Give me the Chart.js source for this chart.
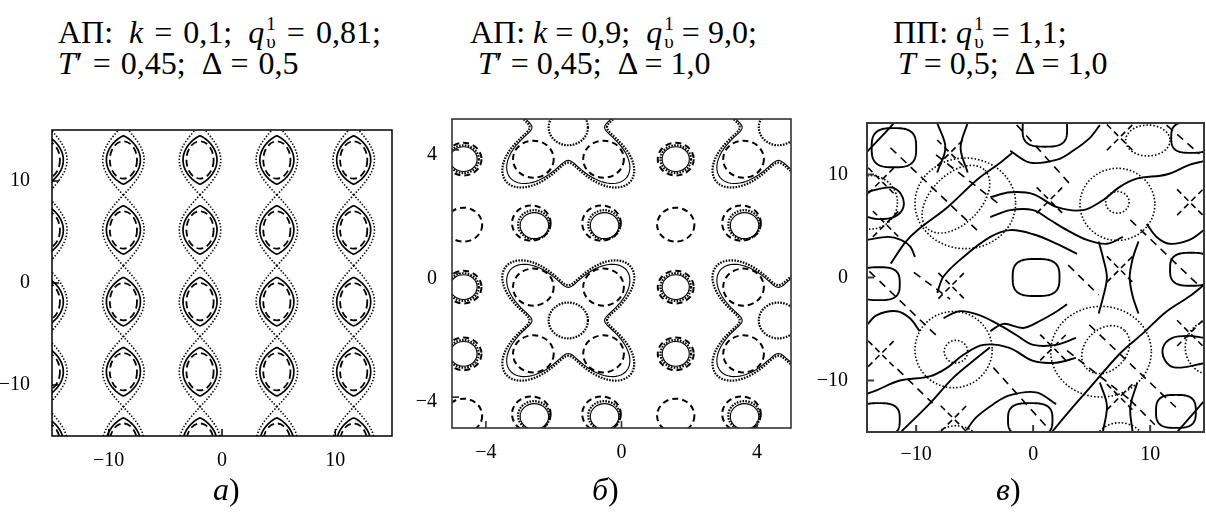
<!DOCTYPE html>
<html>
<head>
<meta charset="utf-8">
<script src="https://cdn.jsdelivr.net/npm/chart.js@4.4.0/dist/chart.umd.min.js"></script>
<style>
  body { margin: 0; background: #fff; width: 1206px; height: 515px; overflow: hidden; position: relative;
         font-family: "Liberation Serif", Tinos, "Times New Roman", "DejaVu Serif", serif; color: #000; }
  .ttl { position: absolute; font-size: 32px; white-space: nowrap; line-height: 1; }
  .ss { display: inline-block; vertical-align: -0.28em; font-size: 0.6em; line-height: 0.95; text-align: center; margin-left: 2px; }
  .ss span { display: block; }
  .cap { position: absolute; font-size: 32px; line-height: 1; top: 473px; }
  canvas { position: absolute; }
</style>
</head>
<body>
<div class="ttl" style="left:58px;top:15px;word-spacing:3px">АП:&ensp;<i>k</i> = 0,1;&ensp;<i>q</i><span class="ss"><span>1</span><span>υ</span></span> = 0,81;</div>
<div class="ttl" style="left:58px;top:47px;word-spacing:2px"><i>T</i>′ = 0,45;&ensp;Δ = 0,5</div>
<div class="ttl" style="left:470px;top:15px">АП: <i>k</i> = 0,9;&ensp;<i>q</i><span class="ss"><span>1</span><span>υ</span></span> = 9,0;</div>
<div class="ttl" style="left:478px;top:47px"><i>T</i>′ = 0,45;&ensp;Δ = 1,0</div>
<div class="ttl" style="left:893px;top:15px">ПП: <i>q</i><span class="ss"><span>1</span><span>υ</span></span> = 1,1;</div>
<div class="ttl" style="left:898px;top:47px"><i>T</i> = 0,5;&ensp;Δ = 1,0</div>

<canvas id="pa" width="400" height="380" style="left:0;top:100px"></canvas>
<canvas id="pb" width="400" height="380" style="left:400px;top:100px"></canvas>
<canvas id="pc" width="406" height="380" style="left:800px;top:100px"></canvas>

<div class="cap" style="left:213px"><i>а</i>)</div>
<div class="cap" style="left:592px"><i>б</i>)</div>
<div class="cap" style="left:996px"><i>в</i>)</div>

<script>
// ---- panel а: chain of cells along y
const aTicks = [-10, 0, 10];
const aCols = [-15.5, -8.7, -1.94, 4.84, 11.62];
const aRows = [19.0, 12.06, 5.2, -1.83, -8.7, -15.6];
const aSolid = [1.5, 2.37];      // half-width, half-height of the solid loop
const aDash = [1.2, 1.83];       // dashed ellipse semi-axes
const aSep = 1.83;               // separatrix half-width

// ---- panel б: lobes, saddles and isolated rings
const bTicks = [-4, 0, 4];
const bLobeX = [-2.6, -0.53, 3.6, 5.66];
const bLobeY = [5.76, 3.7, -0.44, -2.6];
const bNodeX = [-4.66, 1.6];
const bNodeY = [1.58, -4.6];
const bSaddleX = [-1.57, 4.63];
const bSaddleY = [4.73, -1.52];

// ---- panel в
const cTicks = [-10, 0, 10];
// rounded loops: x, y, half-width, half-height
const cBlobs = [
  [0.25, 0, 2.0, 1.8], [1.0, 14.4, 1.9, 1.7], [13.5, 13.6, 1.7, 1.5], [13.5, 0.8, 1.8, 1.6],
  [-0.25, -13.8, 1.9, 1.6], [-13.2, -13.8, 1.8, 1.6], [-13.2, -0.6, 1.8, 1.6],
  [-11.9, 12.6, 1.9, 1.9], [12.2, -13.0, 1.7, 1.6]
];
// dotted rings: x, y, semi-axis a, semi-axis b, tilt (deg)
const cRings = [
  [7.2, 7.3, 1.0, 1.05, 0], [7.2, 7.1, 3.2, 3.5, 0], [-6.6, -7.2, 1.0, 1.1, 0], [-6.8, -7.0, 3.3, 3.7, 0],
  [-6.6, 7.6, 3.5, 2.4, 45], [6.2, -7.0, 2.3, 2.0, 45], [-13.9, 7.3, 2.3, 2.6, 0], [15.4, -6.8, 2.4, 2.7, 0],
  [9.8, 13.3, 1.9, 1.5, 0], [7.4, -16.3, 2.2, 2.2, 0], [-6.6, -16.6, 2.2, 2.2, 0],
  [5.8, -7.2, 4.3, 4.4, 0], [-5.8, 7.2, 4.3, 4.4, 0]
];
// dashed crosses at saddles
const cCrosses = [
  [-13.0, 9.4], [-12.6, 5.2], [1.4, 7.5], [7.4, 13.6], [13.4, 7.3], [-13.0, -7.4], [-6.8, -13.7],
  [7.4, -11.6], [13.4, -5.4], [1.7, -6.8], [-7.1, 12.1], [7.4, 0.8], [-7.0, -0.8]
];
// dashed diagonals
const cDashed = [
  [[-12.2, 12.6], [-4.8, 4.6]], [[-1.4, 14.8], [3.4, 8.75]], [[8.3, 5.6], [14.0, -0.6]],
  [[4.8, -4.6], [12.2, -12.6]], [[-3.4, -8.75], [1.4, -14.8]], [[-14.0, 0.6], [-8.3, -5.6]],
  [[2.9, -7.1], [8.3, -11.9]], [[-8.3, 11.9], [-2.9, 7.1]], [[3.0, 1.2], [5.6, -1.7]],
  [[-11.6, -8.9], [-8.6, -12.2]], [[-10.2, 0.5], [-7.1, -2.1]], [[11.4, 14.8], [14.2, 12.0]],
  [[8.3, -11.9], [10.4, -14.3]]
];
// solid contour pieces
const cSolid = [
  [[-12.17, 1.35], [-10.9, 3.46], [-9.87, 4.62], [-7.32, 6.83], [-4.77, 9.52], [-2.81, 11.15], [-1.79, 12.1]],
  [[1.6, -15], [3.15, -12.9], [4.85, -10.7], [7.4, -7.4], [9.4, -5.4], [11.4, -3.3], [13.4, -1.8], [14.6, -0.7]],
  [[12.3, -15], [14.6, -12.0]],
  [[-14.2, 12.2], [-12.2, 14.6], [-11.9, 15]],
  [[-11.3, -15], [-8.8, -12.2], [-6.8, -9.7], [-4.8, -7.8], [-3.7, -6.8]],
  [[-3.66, 7.8], [-1.96, 8.27], [0, 8.1], [2.04, 6.83], [4.26, 6.54], [5.96, 7.5], [7.4, 8.8], [8.85, 9.6], [11.4, 10.0], [13.4, 10.96], [14.6, 11.3]],
  [[-3.66, 5.87], [-1.96, 6.54], [0, 6.54], [1.45, 5.58], [2.9, 4.6], [4.6, 3.65], [6.3, 3.27], [7.66, 3.94]],
  [[9.7, 5.2], [10.55, 3.94], [11.66, 3.27], [13.36, 3.65], [14.6, 4.6]],
  [[-1.96, 12.3], [-0.26, 11.15], [2.04, 11.44], [3.4, 12.3], [4.85, 13.56], [5.7, 14.8]],
  [[3.66, -7.8], [1.96, -8.27], [0, -8.1], [-2.04, -6.83], [-4.26, -6.54], [-5.96, -7.5], [-7.4, -8.8], [-8.85, -9.6], [-11.4, -10.0], [-13.4, -10.96], [-14.2, -11.3]],
  [[3.66, -5.87], [1.96, -6.54], [0, -6.54], [-1.45, -5.58], [-2.9, -4.6], [-4.6, -3.65], [-6.3, -3.27], [-7.66, -3.94]],
  [[-9.7, -5.2], [-10.55, -3.94], [-11.66, -3.27], [-13.36, -3.65], [-14.2, -4.6]],
  [[1.96, -12.3], [0.26, -11.15], [-2.04, -11.44], [-3.4, -12.3], [-4.85, -13.56], [-5.7, -14.8]],
  [[5.6, 3.5], [6.0, 1.8], [6.3, 0], [6.0, -1.8], [5.6, -3.5]],
  [[9.0, 3.5], [8.5, 1.8], [8.25, 0], [8.5, -1.8], [9.0, -3.5]],
  [[-8.2, 15], [-7.5, 12.6], [-8.2, 10.2]],
  [[-5.6, 15], [-6.2, 12.6], [-5.6, 10.2]],
  [[5.7, -10.2], [6.3, -12.4], [5.96, -15]],
  [[8.9, -10.2], [8.3, -12.6], [8.5, -15]],
  [[-14.2, 8.3], [-12.2, 8.75], [-11.3, 8.1], [-11.1, 6.8], [-11.9, 5.87], [-13.3, 5.67], [-14.2, 5.87]],
  [[14.7, -8.3], [12.2, -8.75], [11.3, -8.1], [11.1, -6.8], [11.9, -5.87], [13.3, -5.67], [14.7, -5.87]],
  [[-14.2, 3.65], [-12.4, 3.94], [-11.3, 3.65], [-10.5, 3.0], [-10.1, 2.0]],
  [[-8.2, -1.5], [-7.66, 0.1], [-5.96, 2.0], [-3.66, 3.94], [-1.96, 4.6], [0, 4.2], [2.04, 3.27], [3.75, 2.3]],
  [[-3.66, -5.2], [-2.55, -4.5], [-0.85, -4.9], [0.6, -4.2], [2.0, -3.3], [2.9, -2.6]]
];

const SERIF = '"Liberation Serif", Tinos, "Times New Roman", "DejaVu Serif", serif';
const fmtTick = v => (v < 0 ? '\u2212' + Math.abs(v) : String(v));

function pen(ctx, kind, w, pattern) {
  ctx.strokeStyle = '#000';
  ctx.lineWidth = w;
  ctx.lineCap = 'butt';
  ctx.lineJoin = 'round';
  ctx.setLineDash(pattern || (kind === 'dash' ? [7, 4] : kind === 'dot' ? [1.4, 1.9] : []));
}

// closed curve given in data units
function loop(chart, f, n) {
  const { x, y } = chart.scales, ctx = chart.ctx;
  ctx.beginPath();
  for (let i = 0; i <= n; i++) {
    const p = f(i / n * 2 * Math.PI);
    const X = x.getPixelForValue(p[0]), Y = y.getPixelForValue(p[1]);
    if (i) ctx.lineTo(X, Y); else ctx.moveTo(X, Y);
  }
  ctx.closePath();
  ctx.stroke();
}

function ring(chart, cx, cy, rx, ry, tilt) {
  const { x, y } = chart.scales, ctx = chart.ctx;
  const X = x.getPixelForValue(cx), Y = y.getPixelForValue(cy);
  const RX = Math.abs(x.getPixelForValue(cx + rx) - X);
  const RY = Math.abs(y.getPixelForValue(cy + ry) - Y);
  ctx.beginPath();
  ctx.ellipse(X, Y, RX, RY, -(tilt || 0) * Math.PI / 180, 0, 2 * Math.PI);
  ctx.stroke();
}

function seg(chart, pts) {
  const { x, y } = chart.scales, ctx = chart.ctx;
  ctx.beginPath();
  pts.forEach((p, i) => {
    const X = x.getPixelForValue(p[0]), Y = y.getPixelForValue(p[1]);
    if (i) ctx.lineTo(X, Y); else ctx.moveTo(X, Y);
  });
  ctx.stroke();
}

function drawA(chart, ctx) {
  // separatrix chains (dotted)
  pen(ctx, 'dot', 1.6, [1.4, 1.8]);
  aCols.forEach(c => {
    aRows.forEach((r, i) => {
      const up = i > 0 ? (aRows[i - 1] + r) / 2 : r + (r - aRows[i + 1]) / 2;
      const dn = i < aRows.length - 1 ? (r + aRows[i + 1]) / 2 : r - (aRows[i - 1] - r) / 2;
      [-1, 1].forEach(s => {
        const pts = [];
        for (let k = 0; k <= 40; k++) {
          const yy = dn + (up - dn) * k / 40;
          const ph = yy >= r ? (yy - r) / (up - r) : (r - yy) / (r - dn);
          pts.push([c + s * aSep * Math.cos(ph * Math.PI / 2), yy]);
        }
        seg(chart, pts);
      });
    });
  });
  // solid loops
  pen(ctx, 'solid', 1.7);
  aCols.forEach(c => aRows.forEach(r => {
    loop(chart, t => [c + aSolid[0] * Math.sin(t) * Math.pow(Math.abs(Math.sin(t)), 0.6), r + aSolid[1] * Math.cos(t)], 120);
  }));
  // dashed ellipses
  pen(ctx, 'dash', 1.8, [7, 4]);
  aCols.forEach(c => aRows.forEach(r => ring(chart, c, r, aDash[0], aDash[1])));
}

function drawB(chart, ctx) {
  // four-lobed saddle structures
  bSaddleX.forEach(cx => bSaddleY.forEach(cy => {
    pen(ctx, 'dot', 2.2, [1.6, 1.3]);
    loop(chart, t => { const r = 1.84 - 0.7 * Math.cos(4 * t); return [cx + r * Math.cos(t), cy + r * Math.sin(t)]; }, 200);
    ring(chart, cx, cy, 0.58, 0.58);
    pen(ctx, 'solid', 1.1);
    loop(chart, t => { const r = 1.72 - 0.65 * Math.cos(4 * t); return [cx + r * Math.cos(t), cy + r * Math.sin(t)]; }, 200);
  }));
  pen(ctx, 'dash', 2.0, [6, 4]);
  bLobeX.forEach(x => bLobeY.forEach(y => ring(chart, x, y, 0.6, 0.6)));
  // rings between the lobes
  bLobeX.forEach(x => bNodeY.forEach(y => {
    pen(ctx, 'dash', 2.0, [6, 4]); ring(chart, x - 0.06, y + 0.05, 0.57, 0.57);
    pen(ctx, 'dot', 2.2, [1.6, 1.3]); ring(chart, x + 0.02, y, 0.47, 0.47);
    pen(ctx, 'solid', 1.1); ring(chart, x + 0.03, y - 0.03, 0.42, 0.42);
  }));
  bNodeX.forEach(x => bLobeY.forEach(y => {
    pen(ctx, 'dash', 2.0, [6, 4]); ring(chart, x, y, 0.53, 0.53);
    pen(ctx, 'dot', 2.2, [1.6, 1.3]); ring(chart, x, y, 0.45, 0.45);
    pen(ctx, 'solid', 1.1); ring(chart, x, y, 0.4, 0.4);
  }));
  pen(ctx, 'dash', 2.0, [6, 4]);
  bNodeX.forEach(x => bNodeY.forEach(y => ring(chart, x, y, 0.55, 0.55)));
}

function drawC(chart, ctx) {
  pen(ctx, 'solid', 1.9);
  cBlobs.forEach(b => loop(chart, t => {
    const c = Math.cos(t), s = Math.sin(t);
    return [b[0] + b[2] * Math.sign(c) * Math.pow(Math.abs(c), 0.66), b[1] + b[3] * Math.sign(s) * Math.pow(Math.abs(s), 0.66)];
  }, 120));
  pen(ctx, 'dot', 1.6, [1.5, 2.0]);
  cRings.forEach(r => ring(chart, r[0], r[1], r[2], r[3], r[4]));
  pen(ctx, 'dash', 1.6, [6, 4]);
  cCrosses.forEach(p => {
    seg(chart, [[p[0] - 1.1, p[1] - 1.25], [p[0] + 1.1, p[1] + 1.25]]);
    seg(chart, [[p[0] - 1.1, p[1] + 1.25], [p[0] + 1.1, p[1] - 1.25]]);
  });
}

const shapes = draw => ({
  id: 'shapes',
  afterDatasetsDraw(chart) {
    const { ctx, chartArea: a } = chart;
    ctx.save();
    ctx.beginPath();
    ctx.rect(a.left, a.top, a.right - a.left, a.bottom - a.top);
    ctx.clip();
    draw(chart, ctx);
    ctx.restore();
  }
});

// box round the plot area with short inward ticks
const frame = {
  id: 'frame',
  afterDraw(chart, args, opts) {
    const { ctx, chartArea: a, scales } = chart;
    ctx.save();
    ctx.setLineDash([]);
    ctx.strokeStyle = opts.color || '#000';
    ctx.lineWidth = opts.width || 1.5;
    ctx.strokeRect(a.left, a.top, a.right - a.left, a.bottom - a.top);
    ctx.beginPath();
    scales.x.ticks.forEach(t => { const X = scales.x.getPixelForValue(t.value); ctx.moveTo(X, a.bottom); ctx.lineTo(X, a.bottom - 7); });
    scales.y.ticks.forEach(t => { const Y = scales.y.getPixelForValue(t.value); ctx.moveTo(a.left, Y); ctx.lineTo(a.left + 7, Y); });
    ctx.stroke();
    ctx.restore();
  }
};

function panel(id, o) {
  const axis = (min, max, ticks, extra) => Object.assign({
    type: 'linear', min, max,
    afterBuildTicks: s => { s.ticks = ticks.map(v => ({ value: v })); },
    grid: { display: false }, border: { display: false },
    ticks: { color: '#000', font: { family: SERIF, size: 20 }, autoSkip: false, maxRotation: 0, callback: fmtTick }
  }, extra);
  const xs = axis(o.x[0], o.x[1], o.ticks, { afterFit: s => { s.height = 30; } });
  xs.ticks.padding = o.xPad;
  const ys = axis(o.y[0], o.y[1], o.ticks, { afterFit: s => { s.width = o.yW; } });
  ys.ticks.padding = o.yPad;
  ys.ticks.labelOffset = o.yOff || 0;
  return new Chart(document.getElementById(id), {
    type: 'scatter',
    data: { datasets: o.datasets || [] },
    options: {
      responsive: false, animation: false, devicePixelRatio: 1,
      layout: { padding: o.pad },
      plugins: { legend: { display: false }, tooltip: { enabled: false }, frame: o.frame },
      scales: { x: xs, y: ys }
    },
    plugins: [shapes(o.draw), frame]
  });
}

const line = (pts, w, dash) => ({
  data: pts.map(p => ({ x: p[0], y: p[1] })),
  showLine: true, pointRadius: 0, borderColor: '#000', borderWidth: w, borderDash: dash,
  tension: 0.35, fill: false
});

panel('pa', {
  x: [-15, 15], y: [-15, 15], ticks: aTicks, yW: 52, yPad: 14, xPad: 5,
  pad: { left: 0, top: 30, right: 8, bottom: 14 },
  frame: { color: '#000', width: 1.5 }, draw: drawA
});

panel('pb', {
  x: [-5, 5], y: [-5, 5], ticks: bTicks, yW: 52, yPad: 7, xPad: 5, yOff: 5,
  pad: { left: 0, top: 12, right: 9, bottom: 22 },
  frame: { color: '#333', width: 1.6 }, draw: drawB
});

panel('pc', {
  x: [-14.2, 14.6], y: [-15, 15], ticks: cTicks, yW: 67, yPad: 11, xPad: 3,
  pad: { left: 0, top: 20, right: 2, bottom: 18 },
  frame: { color: '#3a3a3a', width: 2 }, draw: drawC,
  datasets: cSolid.map(p => line(p, 1.9, []))
    .concat(cDashed.map(p => line(p, 1.6, [8, 6])))
});
</script>
</body>
</html>
